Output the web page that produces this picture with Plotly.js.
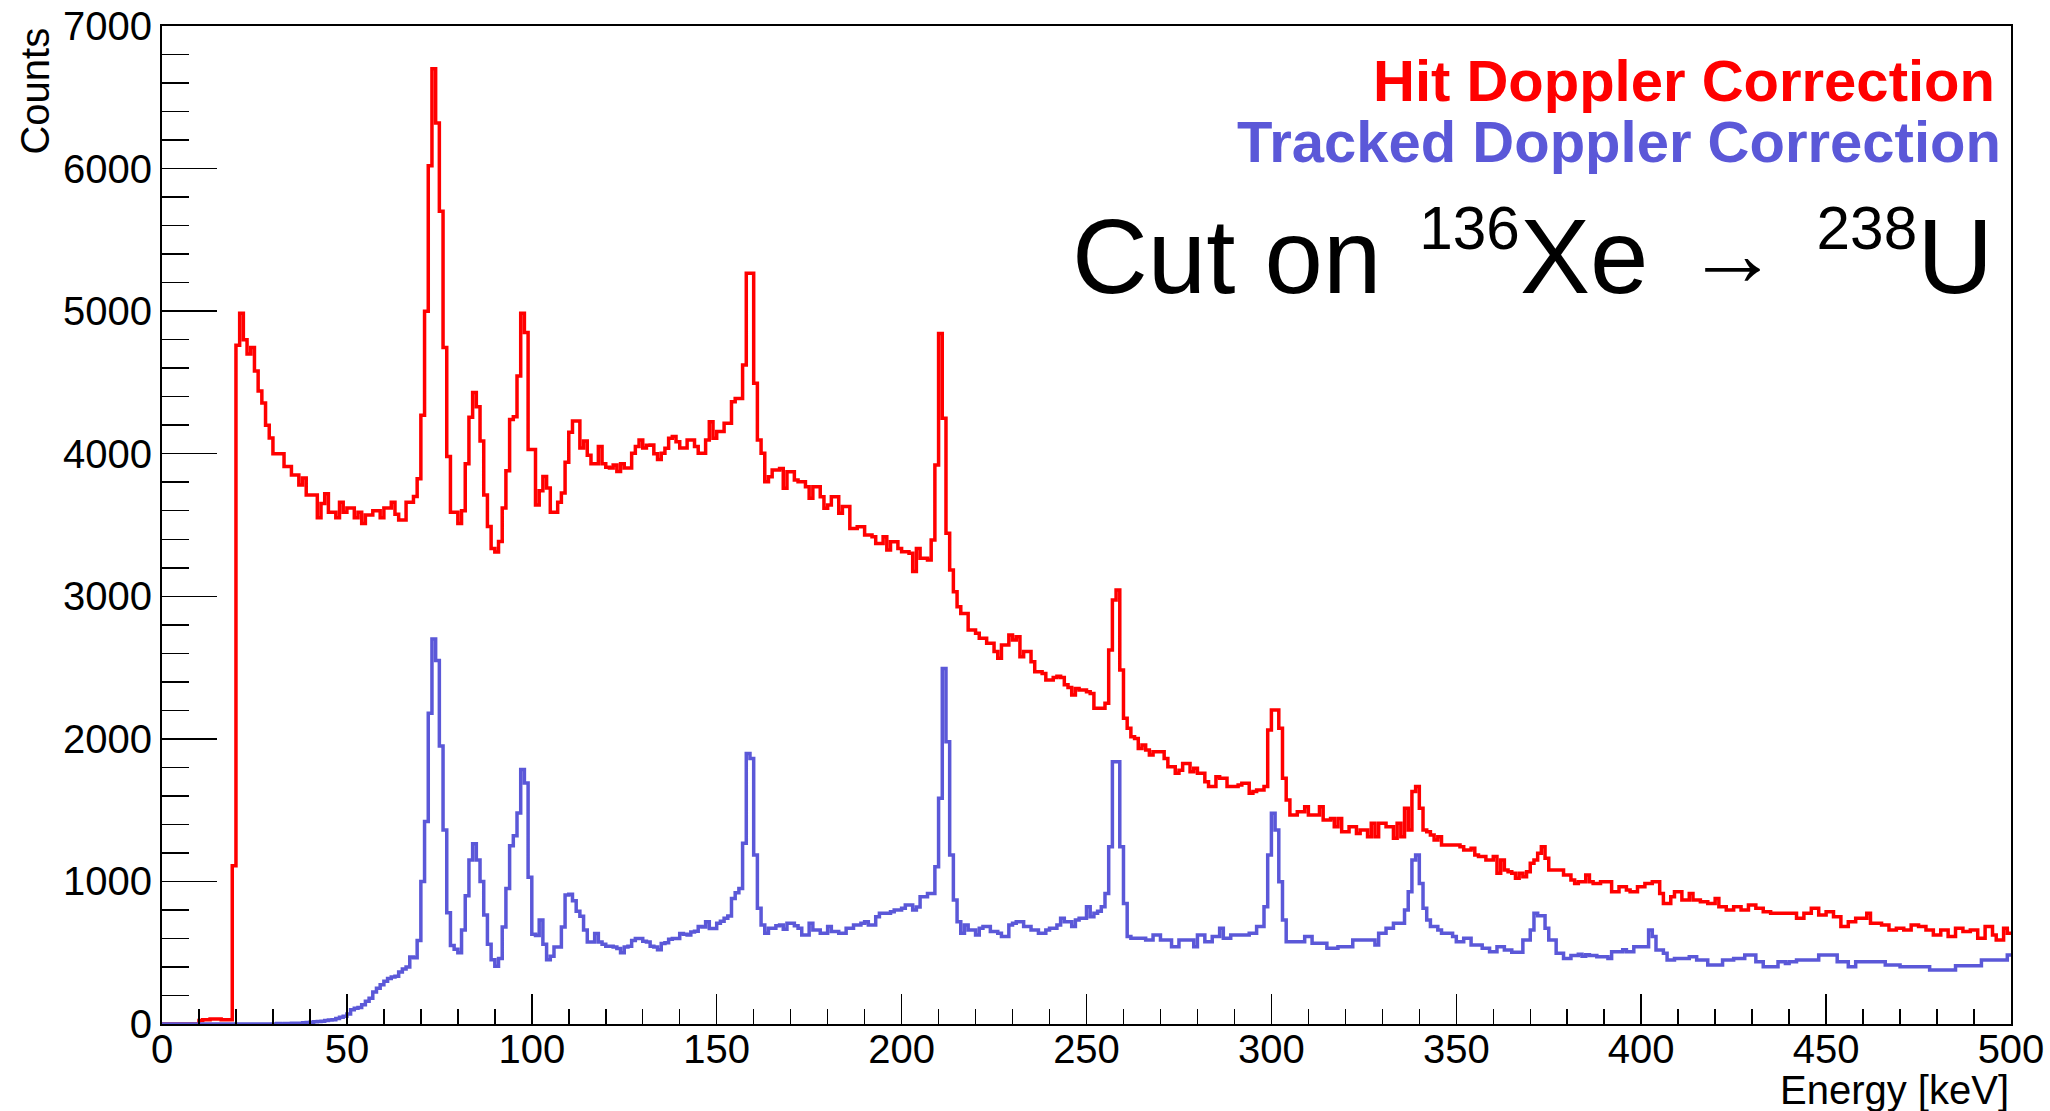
<!DOCTYPE html>
<html>
<head>
<meta charset="utf-8">
<script src="https://cdn.plot.ly/plotly-3.0.1.min.js"></script>
<style>html,body{margin:0;padding:0;background:#fff}</style>
</head>
<body>
<div id="chart" style="width:2050px;height:1111px"></div>
<script>
// Histogram binning (keV)
const binStart = 0;
const binWidth = 1;

// Hit Doppler Correction counts, bins 0..499 keV
const hitCounts = [
0,0,0,0,0,0,0,0,0,0,
25,30,30,35,35,35,30,30,30,1110,
4760,4985,4800,4700,4745,4580,4440,4355,4200,4110,
4000,4000,4000,3910,3910,3850,3850,3780,3830,3710,
3710,3710,3550,3650,3720,3590,3590,3550,3660,3590,
3620,3620,3550,3590,3510,3570,3570,3600,3600,3550,
3620,3620,3660,3575,3535,3535,3660,3660,3700,3825,
4270,5000,6020,6700,6320,5700,4745,3980,3590,3590,
3510,3600,3930,4255,4430,4330,4090,3710,3490,3335,
3310,3385,3620,3880,4240,4260,4545,4985,4850,4030,
4030,3640,3740,3840,3760,3590,3590,3660,3725,3940,
4150,4230,4230,4040,4090,3990,3930,3930,4050,3930,
3905,3900,3920,3875,3930,3900,3900,4003,4050,4096,
4040,4060,4061,4000,3960,4003,4038,4108,4120,4084,
4040,4040,4096,4096,4050,4003,4003,4096,4225,4108,
4155,4155,4213,4213,4365,4388,4388,4622,5265,5265,
4494,4096,4003,3804,3839,3886,3886,3897,3757,3874,
3874,3816,3804,3804,3769,3687,3769,3769,3699,3617,
3640,3699,3699,3582,3629,3629,3476,3476,3488,3488,
3430,3430,3418,3371,3371,3418,3325,3383,3383,3336,
3313,3313,3301,3173,3336,3266,3266,3254,3395,3921,
4844,4248,3442,3184,3032,2927,2880,2880,2764,2764,
2740,2705,2705,2670,2670,2612,2565,2658,2658,2728,
2693,2717,2576,2612,2612,2541,2471,2471,2459,2413,
2413,2430,2440,2430,2380,2360,2308,2354,2343,2343,
2331,2319,2214,2214,2214,2249,2623,2974,3044,2483,
2144,2074,2015,2003,1933,1957,1922,1887,1910,1910,
1910,1863,1805,1805,1758,1780,1828,1828,1770,1793,
1758,1758,1700,1665,1665,1735,1723,1723,1665,1665,
1665,1676,1688,1688,1618,1630,1641,1641,1665,2062,
2202,2202,2074,1723,1571,1466,1466,1489,1489,1524,
1466,1466,1466,1524,1431,1431,1442,1384,1442,1349,
1349,1384,1384,1337,1361,1361,1314,1408,1314,1408,
1408,1384,1384,1302,1408,1314,1513,1361,1630,1665,
1513,1361,1349,1326,1291,1314,1256,1256,1256,1256,
1256,1244,1220,1220,1232,1185,1174,1174,1150,1150,
1174,1057,1150,1080,1068,1057,1022,1057,1033,1068,
1127,1150,1197,1244,1162,1080,1080,1080,1080,1045,
1045,1010,986,998,998,1045,998,986,986,998,
998,998,928,928,963,963,940,928,928,963,
963,986,986,998,998,916,846,846,893,928,
928,870,870,916,870,870,858,858,846,846,
881,823,823,799,799,823,823,799,799,834,
834,811,811,788,788,776,776,776,776,776,
776,776,741,741,776,776,811,811,764,764,
788,788,753,753,683,683,718,718,741,741,
741,776,706,706,706,694,694,659,659,671,
671,659,659,694,694,683,683,659,659,624,
624,659,659,613,613,671,671,648,648,659,
659,601,601,683,683,624,589,589,671,636
];

// Tracked Doppler Correction counts, bins 0..499 keV
const trackedCounts = [
0,0,0,0,0,0,0,0,0,0,
0,0,0,0,0,0,0,0,0,0,
0,0,0,0,0,0,0,0,0,0,
0,4,0,4,4,5,6,3,8,10,
12,15,18,20,24,28,30,38,48,55,
70,100,110,115,135,160,180,225,250,275,
300,320,330,335,365,385,400,470,465,585,
1000,1420,2180,2700,2550,1950,1360,780,550,525,
500,660,900,1150,1265,1150,1000,765,560,450,
405,460,680,950,1250,1320,1480,1785,1690,1030,
630,620,730,560,450,475,540,540,680,905,
910,865,790,755,660,575,575,635,575,560,
545,545,540,530,500,540,545,585,600,600,
580,575,545,540,520,565,570,595,600,600,
635,630,625,645,650,683,680,718,670,670,
706,720,741,757,880,920,951,1267,1898,1863,
1185,811,694,636,671,671,690,694,664,706,
706,690,671,624,624,706,659,659,636,636,
683,648,648,636,636,671,671,694,694,706,
718,694,694,753,776,776,776,788,799,799,
811,834,834,799,820,893,893,916,916,1103,
1583,2494,1980,1185,870,718,636,694,659,659,
624,671,683,683,648,648,636,613,613,694,
706,718,718,683,683,659,659,636,636,659,
671,671,694,741,718,718,683,729,741,741,
823,753,776,790,823,916,1244,1840,1840,1244,
846,613,601,601,601,601,589,589,624,624,
589,589,589,542,542,589,589,589,589,542,
624,624,577,577,613,613,671,601,601,624,
624,624,624,624,636,636,683,683,823,1185,
1478,1361,998,729,577,577,577,577,577,613,
613,566,566,566,566,531,531,531,542,542,
542,542,589,589,589,589,589,589,554,636,
636,671,671,706,706,706,799,928,1150,1185,
986,811,729,683,683,659,636,636,636,613,
577,577,601,601,554,554,554,531,531,507,
507,542,542,519,519,503,503,503,589,589,
659,776,760,760,671,589,589,496,496,460,
460,480,480,490,475,485,480,480,472,472,
472,460,507,507,507,520,507,507,542,542,
542,542,659,613,519,519,496,449,449,460,
460,460,460,472,472,449,449,449,414,414,
414,414,449,449,449,460,460,460,484,484,
484,437,437,402,402,402,402,437,437,425,
437,437,449,449,449,449,449,449,484,484,
484,484,484,437,437,437,402,402,437,437,
437,437,437,437,437,437,414,414,414,414,
402,402,402,402,402,402,402,402,379,379,
379,379,379,379,379,409,409,409,409,409,
409,409,449,449,449,449,449,449,449,484
];

const seriesNames = ["Hit Doppler Correction", "Tracked Doppler Correction"];
const xTitle = "Energy [keV]";
const yTitle = "Counts";
const cutLabel = "Cut on \u200A<sup><span style=\"font-size:82%\">136</span></sup>Xe \u200A<span style=\"font-size:88%;baseline-shift:8px\">→</span>\u200A <sup><span style=\"font-size:82%\">238</span></sup>U";

const RED = "#ff0000";
const BLUE = "#5b58d8";
const FONT = "Liberation Sans, Arial, Helvetica, sans-serif";

function binEdges(n) {
  const e = [];
  for (let i = 0; i <= n; i++) e.push(binStart + i * binWidth);
  return e;
}
function stepValues(a) { return a.concat([a[a.length - 1]]); }

const traces = [
  {
    x: binEdges(hitCounts.length), y: stepValues(hitCounts),
    type: "scatter", mode: "lines", name: seriesNames[0],
    line: {shape: "hv", color: RED, width: 3.5}, hoverinfo: "skip"
  },
  {
    x: binEdges(trackedCounts.length), y: stepValues(trackedCounts),
    type: "scatter", mode: "lines", name: seriesNames[1],
    line: {shape: "hv", color: BLUE, width: 3.5}, hoverinfo: "skip"
  }
];

const layout = {
  width: 2050, height: 1111,
  margin: {l: 162, r: 39, t: 26, b: 87, pad: 0},
  paper_bgcolor: "#ffffff", plot_bgcolor: "#ffffff",
  showlegend: false,
  font: {family: FONT, size: 40, color: "#000"},
  xaxis: {
    range: [0, 500], tick0: 0, dtick: 50, tickformat: "d",
    ticks: "inside", ticklen: 30, tickwidth: 1.5, tickcolor: "#000",
    ticklabelstandoff: -11,
    minor: {ticks: "inside", ticklen: 15, dtick: 10, tick0: 0, tickwidth: 1.5, tickcolor: "#000", showgrid: false},
    showline: true, linecolor: "#000", linewidth: 2, mirror: true,
    showgrid: false, zeroline: false,
    tickfont: {family: FONT, size: 40, color: "#000"}
  },
  yaxis: {
    range: [0, 7000], tick0: 0, dtick: 1000, tickformat: "d",
    ticks: "inside", ticklen: 55, tickwidth: 1.5, tickcolor: "#000",
    minor: {ticks: "inside", ticklen: 27, dtick: 200, tick0: 0, tickwidth: 1.5, tickcolor: "#000", showgrid: false},
    showline: true, linecolor: "#000", linewidth: 2, mirror: true,
    showgrid: false, zeroline: false,
    tickfont: {family: FONT, size: 40, color: "#000"}
  },
  annotations: [
    {xref: "paper", yref: "paper", x: 0.9925, y: 0.945, xanchor: "right", yanchor: "middle",
     text: "<b>" + seriesNames[0] + "</b>", showarrow: false,
     font: {family: FONT, size: 58, color: RED}},
    {xref: "paper", yref: "paper", x: 0.9955, y: 0.884, xanchor: "right", yanchor: "middle",
     text: "<b>" + seriesNames[1] + "</b>", showarrow: false,
     font: {family: FONT, size: 58, color: BLUE}},
    {xref: "paper", yref: "paper", x: 0.9915, y: 0.771, xanchor: "right", yanchor: "middle",
     text: cutLabel, showarrow: false,
     font: {family: FONT, size: 105, color: "#000"}},
    {xref: "paper", yref: "paper", x: -0.0692, y: 1.0, xanchor: "center", yanchor: "top",
     text: yTitle, textangle: -90, showarrow: false,
     font: {family: FONT, size: 40, color: "#000"}},
    {xref: "paper", yref: "paper", x: 1.0, y: -0.066, xanchor: "right", yanchor: "middle",
     text: xTitle, showarrow: false,
     font: {family: FONT, size: 40, color: "#000"}}
  ]
};

Plotly.newPlot("chart", traces, layout, {staticPlot: true, displayModeBar: false});
</script>
</body>
</html>
